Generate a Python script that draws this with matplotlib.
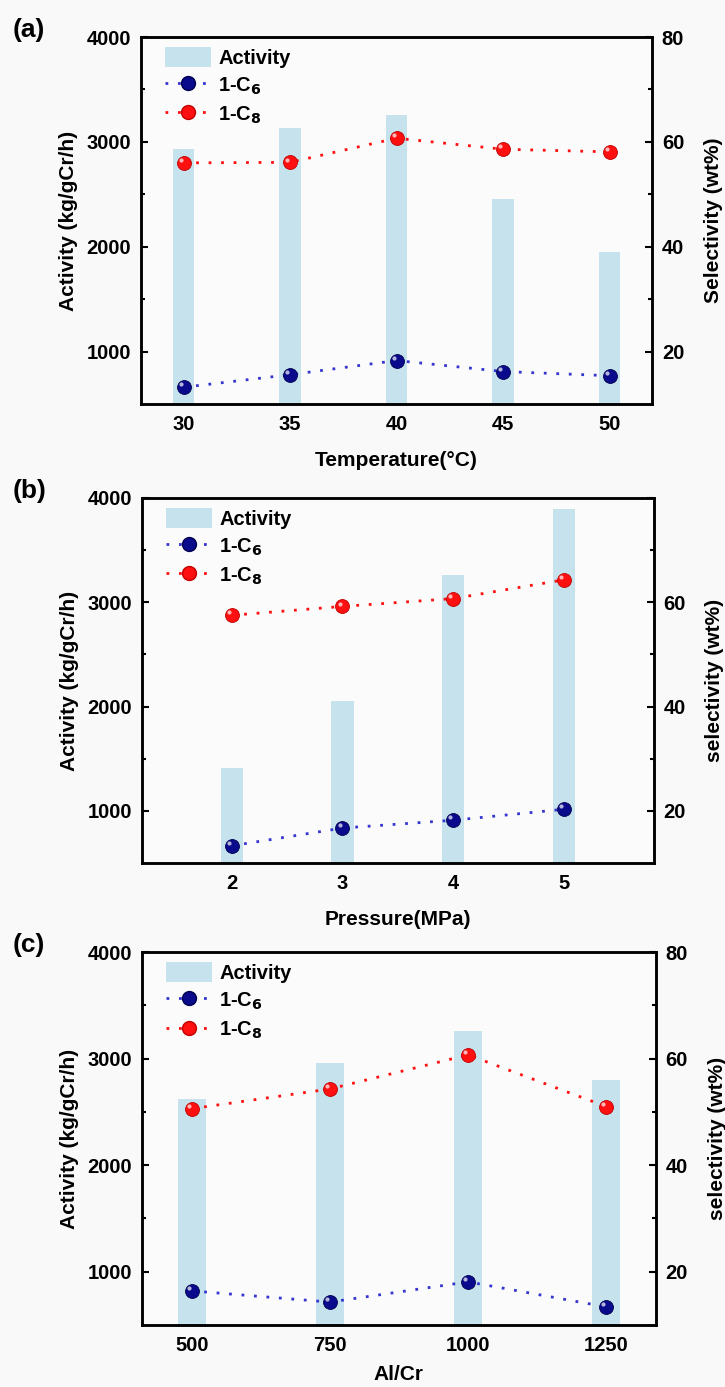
import matplotlib.pyplot as plt
from matplotlib.patches import Patch
from matplotlib.lines import Line2D
from matplotlib.transforms import ScaledTranslation

plt.rcParams['font.family'] = ['Liberation Sans', 'DejaVu Sans']
plt.rcParams['font.weight'] = 'bold'
plt.rcParams['axes.labelweight'] = 'bold'
plt.rcParams['mathtext.default'] = 'bf'

# (a) temperature series
temp = [30, 35, 40, 45, 50]
act_a = [2930, 3130, 3260, 2460, 1950]
c6_a = [13.2, 15.6, 18.3, 16.2, 15.4]
c8_a = [56.0, 56.1, 60.7, 58.6, 58.1]

# (b) pressure series
pressure = [2, 3, 4, 5]
act_b = [1410, 2050, 3260, 3890]
c6_b = [13.3, 16.7, 18.2, 20.3]
c8_b = [57.5, 59.2, 60.7, 64.3]

# (c) Al/Cr series
alcr = [500, 750, 1000, 1250]
act_c = [2620, 2960, 3260, 2800]
c6_c = [16.4, 14.3, 18.1, 13.4]
c8_c = [50.6, 54.3, 60.7, 51.0]

BAR = '#c6e2ec'
NAVY = '#0a0a8c'
RED = '#ff1010'
FS = 14.5

fig = plt.figure(figsize=(7.25, 13.87), dpi=100, facecolor='#f9f9f9')

panels = [
    ('(a)', temp, act_a, c6_a, c8_a, 1.0, (28, 52), 'Temperature(°C)', 'Selectivity (wt%)',
     [0.1945, 0.7087, 0.705, 0.2646], True, 12),
    ('(b)', pressure, act_b, c6_b, c8_b, 0.2, (1.19, 5.81), 'Pressure(MPa)', 'selectivity (wt%)',
     [0.1958, 0.3778, 0.706, 0.2632], False, 12),
    ('(c)', alcr, act_c, c6_c, c8_c, 50, (410, 1340), 'Al/Cr', 'selectivity (wt%)',
     [0.1958, 0.0447, 0.709, 0.2689], True, 7),
]


def sphere(ax, x, y, color, edge):
    ax.plot(x, y, 'o', ms=10, mfc=color, mec=edge, mew=0.6, zorder=4)
    shift = ax.transData + ScaledTranslation(-2.0 / 72, 2.0 / 72, fig.dpi_scale_trans)
    ax.plot(x, y, 'o', ms=3.0, mfc='white', mec='none', alpha=0.7,
            transform=shift, zorder=5)


for tag, xs, act, c6, c8, width, xlim, xlabel, rlabel, rect, show80, xpad in panels:
    ax = fig.add_axes(rect)
    ax.set_facecolor('#fbfbfb')
    ax.bar(xs, act, width=width, color=BAR, zorder=1)
    ax.set_xlim(*xlim)
    ax.set_ylim(500, 4000)
    ax.set_yticks([1000, 2000, 3000, 4000])
    ax.set_yticks([1500, 2500, 3500], minor=True)
    ax.set_xticks(xs)
    ax.tick_params(axis='x', length=0, pad=8, labelsize=FS)
    ax.tick_params(axis='y', which='both', direction='in', labelsize=FS, pad=7)
    ax.tick_params(axis='y', which='major', length=5, width=1.5)
    ax.tick_params(axis='y', which='minor', length=3, width=1.5)
    ax.set_xlabel(xlabel, fontsize=15, labelpad=xpad)
    ax.set_ylabel('Activity (kg/gCr/h)', fontsize=15, labelpad=6)
    for s in ax.spines.values():
        s.set_linewidth(1.8)

    ax2 = ax.twinx()
    ax2.set_ylim(10, 80)
    ax2.set_yticks([20, 40, 60, 80])
    if not show80:
        ax2.set_yticklabels(['20', '40', '60', ''])
    ax2.set_yticks([30, 50, 70], minor=True)
    ax2.tick_params(axis='y', which='both', direction='in', labelsize=FS, pad=7)
    ax2.tick_params(axis='y', which='major', length=5, width=1.5)
    ax2.tick_params(axis='y', which='minor', length=3, width=1.5)
    ax2.set_ylabel(rlabel, fontsize=15, labelpad=14)
    for s in ax2.spines.values():
        s.set_linewidth(1.8)

    ax2.plot(xs, c6, linestyle=(0, (1, 3.5)), lw=2, color='#3535d0', zorder=3)
    ax2.plot(xs, c8, linestyle=(0, (1, 3.5)), lw=2, color=RED, zorder=3)
    sphere(ax2, xs, c6, NAVY, '#000050')
    sphere(ax2, xs, c8, RED, '#c00000')

    handles = [
        Patch(facecolor=BAR, edgecolor='none'),
        Line2D([], [], linestyle=(0, (1, 3.5)), lw=2, color='#3535d0',
               marker='o', ms=10, mfc=NAVY, mec='#000050'),
        Line2D([], [], linestyle=(0, (1, 3.5)), lw=2, color=RED,
               marker='o', ms=10, mfc=RED, mec='#c00000'),
    ]
    ax2.legend(handles, ['Activity', '1-C$_6$', '1-C$_8$'], loc='upper left',
               bbox_to_anchor=(0.047, 0.973), frameon=False, fontsize=FS,
               handlelength=2.3, handleheight=1.15, labelspacing=0.35,
               handletextpad=0.35, borderaxespad=0, borderpad=0)

    fig.text(0.018, rect[1] + rect[3] + 0.005, tag, fontsize=19, fontweight='bold',
             va='center', ha='left')

fig.savefig('out.png', dpi=100, facecolor=fig.get_facecolor())
